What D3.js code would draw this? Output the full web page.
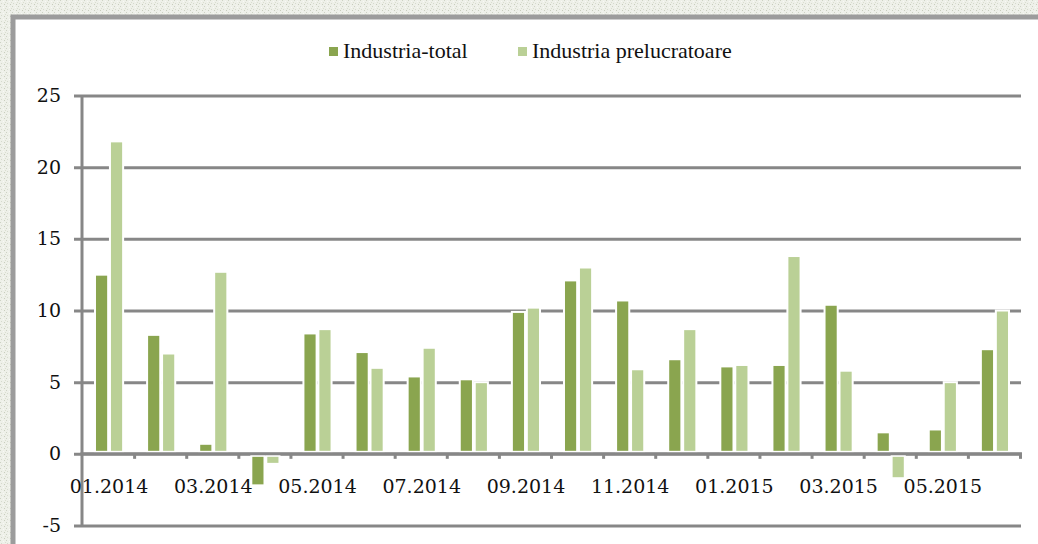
<!DOCTYPE html>
<html>
<head>
<meta charset="utf-8">
<script src="https://cdn.jsdelivr.net/npm/d3@7"></script>
<style>
  body { margin: 0; background: #ffffff; }
  svg { display: block; }
</style>
</head>
<body>
<svg id="chart" width="1038" height="544"></svg>
<script>
// months shown on the category axis
var months = ["01.2014","02.2014","03.2014","04.2014","05.2014","06.2014","07.2014","08.2014","09.2014",
              "10.2014","11.2014","12.2014","01.2015","02.2015","03.2015","04.2015","05.2015","06.2015"];
var seriesNames = ["Industria-total", "Industria prelucratoare"];
var industriaTotal = [12.5, 8.3, 0.7, -2.2, 8.4, 7.1, 5.4, 5.2, 9.9, 12.1, 10.7, 6.6, 6.1, 6.2, 10.4, 1.5, 1.7, 7.3];
var industriaPrelucratoare = [21.8, 7.0, 12.7, -0.7, 8.7, 6.0, 7.4, 5.0, 10.2, 13.0, 5.9, 8.7, 6.2, 13.8, 5.8, -1.7, 5.0, 10.0];
var yTicks = [-5, 0, 5, 10, 15, 20, 25];
var colors = ["#8aa54f", "#bad096"];

var svg = d3.select("#chart");

// grainy surround + frame
var defs = svg.append("defs");
var pat = defs.append("pattern").attr("id", "grain")
  .attr("width", 6).attr("height", 6).attr("patternUnits", "userSpaceOnUse");
pat.append("rect").attr("width", 6).attr("height", 6).attr("fill", "#eef0e9");
[[0,0,"#cdd2c4"],[3,1,"#f8f9f4"],[1,3,"#d6dacd"],[4,4,"#c8cdbd"],[2,5,"#f3f4ee"],[5,2,"#dadecf"]].forEach(function(p){
  pat.append("rect").attr("x", p[0]).attr("y", p[1]).attr("width", 1).attr("height", 1).attr("fill", p[2]);
});
svg.append("rect").attr("width", 1038).attr("height", 544).attr("fill", "url(#grain)");
svg.append("rect").attr("x", 13).attr("y", 17).attr("width", 1040).attr("height", 540)
  .attr("fill", "#ffffff").attr("stroke", "#9c9c9c").attr("stroke-width", 5);

var x0 = d3.scaleBand().domain(months).range([83, 1021]).paddingInner(0.46).paddingOuter(0.23);
var x1 = d3.scaleBand().domain(seriesNames).range([0, x0.bandwidth()]).paddingInner(0.12);
var y = d3.scaleLinear().domain([-5, 25]).range([525.5, 95.5]);

// horizontal gridlines
var yAxis = d3.axisLeft(y).tickValues(yTicks).tickSize(-(1021 - 74)).tickPadding(13)
  .tickFormat(function(d){ return String(d); });
var gy = svg.append("g").attr("transform", "translate(74,0)").call(yAxis);
gy.select(".domain").remove();
gy.selectAll(".tick line").attr("stroke", "#878787").attr("stroke-width", 3);
gy.selectAll(".tick text").attr("font-family", "DejaVu Serif").attr("font-size", 19).attr("fill", "#111");

// vertical axis line
svg.append("line").attr("x1", 82).attr("x2", 82).attr("y1", y(25)).attr("y2", y(-5) + 1.5)
  .attr("stroke", "#878787").attr("stroke-width", 3);

// bars
var rows = months.map(function(m, i){ return {month: m, vals: [industriaTotal[i], industriaPrelucratoare[i]]}; });
var groups = svg.append("g").selectAll("g").data(rows).join("g")
  .attr("transform", function(d){ return "translate(" + x0(d.month) + ",0)"; });
groups.selectAll("rect").data(function(d){ return d.vals.map(function(v, k){ return {k: k, v: v}; }); })
  .join("rect")
  .attr("x", function(d){ return x1(seriesNames[d.k]); })
  .attr("width", x1.bandwidth())
  .attr("y", function(d){ return d.v >= 0 ? y(d.v) : y(0) + 2; })
  .attr("height", function(d){ return d.v >= 0 ? Math.max(0, y(0) - y(d.v) - 2) : y(d.v) - y(0) - 2; })
  .attr("fill", function(d){ return colors[d.k]; })
  .attr("stroke", "#ffffff").attr("stroke-width", 2);

// category axis at zero
var xAxis = d3.axisBottom(x0).tickSize(0).tickPadding(26)
  .tickFormat(function(d, i){ return i % 2 === 0 ? d : ""; });
var gx = svg.append("g").attr("transform", "translate(0," + y(0) + ")").call(xAxis);
gx.select(".domain").remove();
gx.selectAll(".tick text").attr("font-family", "DejaVu Serif").attr("font-size", 19).attr("fill", "#111");
svg.append("line").attr("x1", 80.5).attr("x2", 1022).attr("y1", y(0)).attr("y2", y(0))
  .attr("stroke", "#878787").attr("stroke-width", 3);
var step = x0.step();
svg.append("g").selectAll("line").data(d3.range(1, months.length + 1)).join("line")
  .attr("x1", function(i){ return 83 + i * step - 0.5; })
  .attr("x2", function(i){ return 83 + i * step - 0.5; })
  .attr("y1", y(0)).attr("y2", y(0) + 5)
  .attr("stroke", "#878787").attr("stroke-width", 3);

// legend
var legend = svg.append("g");
var legendX = [329, 518];
seriesNames.forEach(function(name, k){
  legend.append("rect").attr("x", legendX[k]).attr("y", 47).attr("width", 9).attr("height", 9)
    .attr("fill", colors[k]);
  legend.append("text").attr("x", legendX[k] + 14).attr("y", 57.5)
    .attr("font-family", "Liberation Serif").attr("font-size", 22).attr("fill", "#111")
    .text(name);
});
</script>
</body>
</html>
